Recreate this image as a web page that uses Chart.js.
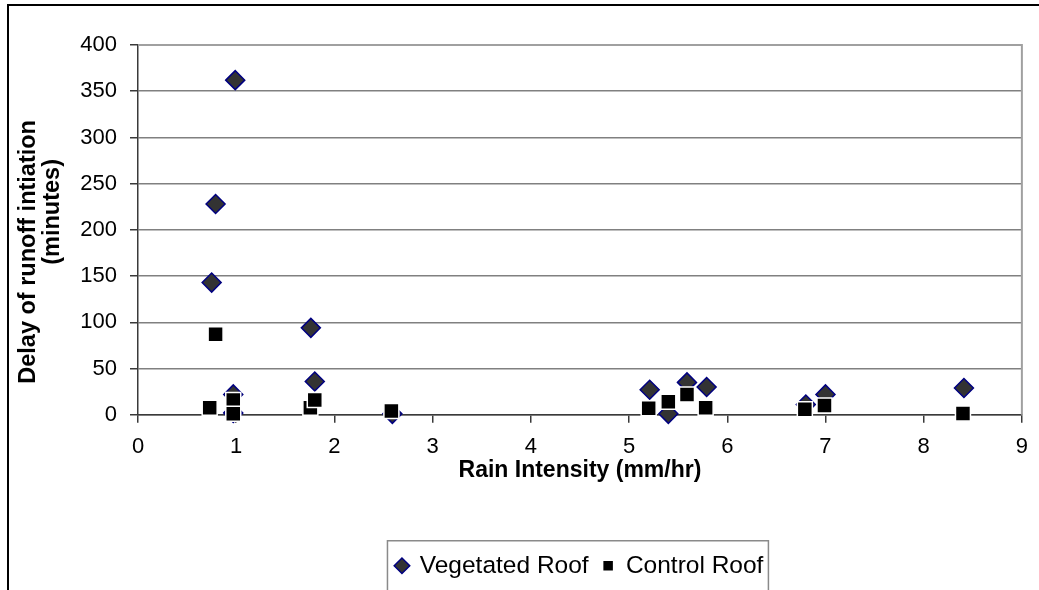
<!DOCTYPE html>
<html>
<head>
<meta charset="utf-8">
<title>Delay of runoff initiation</title>
<script src="https://cdn.jsdelivr.net/npm/chart.js@4"></script>
<style>
  html, body { margin: 0; padding: 0; background: #fff; overflow: hidden; }
  #wrap { position: relative; width: 1039px; height: 590px; }
  #frame { position: absolute; left: 7px; top: 4px; width: 1200px; height: 800px;
           border: 2px solid #000; box-sizing: border-box; }
  #chart { position: absolute; left: 0; top: 0; }
</style>
</head>
<body>
<div id="wrap">
  <div id="frame"></div>
  <canvas id="chart" width="1039" height="590"></canvas>
</div>
<script>
// rain intensity (mm/hr) vs. delay (minutes)
const vegetatedX = [0.75, 0.79, 0.99, 0.97, 0.97, 1.76, 1.80, 2.59, 5.21, 5.40, 5.59, 5.79, 6.80, 7.00, 8.41];
const vegetatedY = [143, 228, 362, 22, 2, 94, 36, 1, 27, 1, 35, 30, 11, 22, 29];
const controlX = [0.73, 0.79, 0.97, 0.97, 1.755, 1.80, 2.58, 5.20, 5.40, 5.59, 5.78, 6.79, 6.99, 8.40];
const controlY = [7.5, 87, 16, 1, 7.6, 16, 4, 7, 14, 22, 7.5, 6, 10, 1.3];

const xTicks = [0, 1, 2, 3, 4, 5, 6, 7, 8, 9];
const yTicks = [0, 50, 100, 150, 200, 250, 300, 350, 400];
const yTitleLines = ["Delay of runoff intiation", "(minutes)"];

const toPoints = (xs, ys) => xs.map((x, i) => ({ x: x, y: ys[i] }));

const FONT = "'Liberation Sans', Arial, sans-serif";
const AXIS = "#3a3a3a";

// grey frame on the top and right of the plot area
const plotFrame = {
  id: "plotFrame",
  beforeDatasetsDraw(chart) {
    const { ctx, chartArea: a } = chart;
    ctx.save();
    ctx.strokeStyle = "#a0a0a0";
    ctx.lineWidth = 2;
    ctx.beginPath();
    ctx.moveTo(a.left, a.top);
    ctx.lineTo(a.right, a.top);
    ctx.lineTo(a.right, a.bottom);
    ctx.stroke();
    ctx.restore();
  },
};

// two-line rotated y title; the second line sits a little higher than the first
const yTitle = {
  id: "yTitle",
  afterDraw(chart) {
    const { ctx, chartArea: a } = chart;
    const mid = (a.top + a.bottom) / 2;
    const spots = [[28.5, mid + 22], [52.5, mid - 18]];
    ctx.save();
    ctx.font = "bold 23.5px " + FONT;
    ctx.fillStyle = "#000";
    ctx.textAlign = "center";
    ctx.textBaseline = "middle";
    yTitleLines.forEach((line, i) => {
      ctx.save();
      ctx.translate(spots[i][0], spots[i][1]);
      ctx.rotate(-Math.PI / 2);
      ctx.fillText(line, 0, 0);
      ctx.restore();
    });
    ctx.restore();
  },
};

// keep the legend centred under the plot area and draw a box round it
const legendBox = {
  id: "legendBox",
  afterLayout(chart) {
    chart.legend.left = chart.chartArea.left;
    chart.legend.right = chart.chartArea.right;
  },
  afterDraw(chart) {
    const boxes = chart.legend.legendHitBoxes;
    if (!boxes || !boxes.length) return;
    const first = boxes[0];
    const last = boxes[boxes.length - 1];
    const { ctx } = chart;
    ctx.save();
    ctx.strokeStyle = "#8a8a8a";
    ctx.lineWidth = 1.5;
    const left = first.left - 9;
    const right = last.left + last.width + 5;
    const top = first.top + first.height / 2 - 25;
    ctx.strokeRect(left, top, right - left, 100);
    ctx.restore();
  },
};

const ctx = document.getElementById("chart").getContext("2d");
const chart = new Chart(ctx, {
  type: "scatter",
  data: {
    datasets: [
      {
        label: "Vegetated Roof",
        data: toPoints(vegetatedX, vegetatedY),
        pointStyle: "rectRot",
        pointRadius: 9.5,
        backgroundColor: "#333333",
        borderColor: "#000080",
        borderWidth: 1.5,
        order: 1,
        clip: false,
      },
      {
        label: "Control Roof",
        data: toPoints(controlX, controlY),
        pointStyle: "rect",
        pointRadius: 10.6,
        backgroundColor: "#000000",
        borderColor: "#ffffff",
        borderWidth: 1.5,
        order: 0,
        clip: false,
      },
    ],
  },
  options: {
    responsive: false,
    devicePixelRatio: 1,
    animation: false,
    events: [],
    layout: { padding: { left: 0, top: 45, right: 16, bottom: 2 } },
    plugins: {
      tooltip: { enabled: false },
      legend: {
        position: "bottom",
        labels: {
          usePointStyle: true,
          boxWidth: 11,
          boxHeight: 11,
          padding: 14,
          color: "#000",
          font: { family: FONT, size: 24.5 },
          sort: (a, b) => a.datasetIndex - b.datasetIndex,
        },
      },
    },
    scales: {
      x: {
        type: "linear",
        min: xTicks[0],
        max: xTicks[xTicks.length - 1],
        afterBuildTicks: (scale) => { scale.ticks = xTicks.map((v) => ({ value: v })); },
        afterFit: (scale) => { scale.height = 124.75; },
        ticks: { color: "#000", padding: 11, font: { family: FONT, size: 22 } },
        grid: { drawOnChartArea: false, tickLength: 8, tickColor: AXIS, lineWidth: 1.5 },
        border: { color: AXIS, width: 1.5 },
        title: {
          display: true,
          text: "Rain Intensity (mm/hr)",
          color: "#000",
          font: { family: FONT, size: 23, weight: "bold" },
          padding: { top: 0, bottom: 55 },
        },
      },
      y: {
        min: yTicks[0],
        max: yTicks[yTicks.length - 1],
        afterBuildTicks: (scale) => { scale.ticks = yTicks.map((v) => ({ value: v })); },
        afterFit: (scale) => { scale.width = 138; },
        ticks: { color: "#000", padding: 13, font: { family: FONT, size: 22 } },
        grid: { color: "#808080", lineWidth: 1.5, tickLength: 8, tickColor: AXIS },
        border: { color: AXIS, width: 1.5 },
        title: { display: false },
      },
    },
  },
  plugins: [plotFrame, yTitle, legendBox],
});
</script>
</body>
</html>
